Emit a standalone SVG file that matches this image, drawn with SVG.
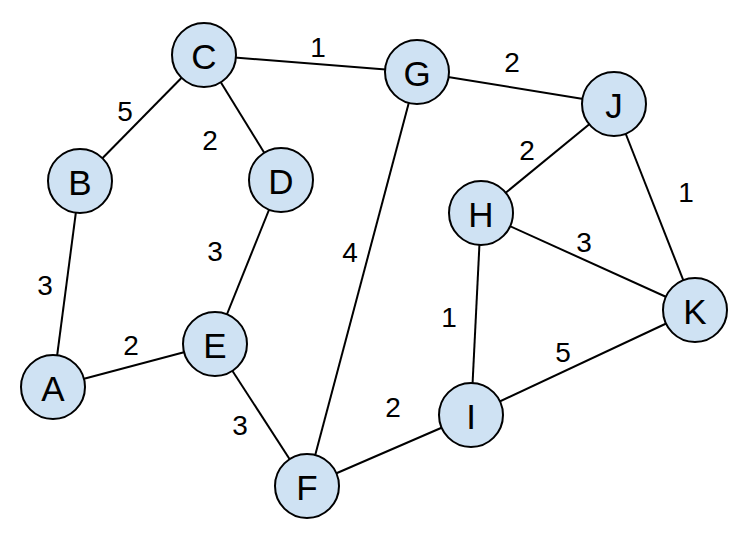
<svg xmlns="http://www.w3.org/2000/svg" width="741" height="545" viewBox="0 0 741 545">
<style>
.n circle{fill:#cfe2f3;stroke:#000;stroke-width:2}
.n text{font-family:"Liberation Sans",Arial,sans-serif;font-size:35px;text-anchor:middle;dominant-baseline:central;fill:#000}
#edges line{stroke:#000;stroke-width:2}
#labels text{font-family:"Liberation Sans",Arial,sans-serif;font-size:28px;text-anchor:middle;dominant-baseline:central;fill:#000}
</style>
<rect width="741" height="545" fill="#fff"/>
<g id="edges">
<line x1="204" y1="55" x2="417" y2="72"/>
<line x1="417" y1="72" x2="614" y2="104"/>
<line x1="204" y1="55" x2="80" y2="181"/>
<line x1="204" y1="55" x2="281" y2="180"/>
<line x1="614" y1="104" x2="481" y2="213"/>
<line x1="614" y1="104" x2="695" y2="310"/>
<line x1="80" y1="181" x2="53" y2="387"/>
<line x1="281" y1="180" x2="215" y2="344"/>
<line x1="417" y1="72" x2="307" y2="486"/>
<line x1="481" y1="213" x2="695" y2="310"/>
<line x1="481" y1="213" x2="471" y2="415"/>
<line x1="471" y1="415" x2="695" y2="310"/>
<line x1="53" y1="387" x2="215" y2="344"/>
<line x1="215" y1="344" x2="307" y2="486"/>
<line x1="307" y1="486" x2="471" y2="415"/>
</g>
<g id="labels">
<text x="318" y="47">1</text>
<text x="512" y="62">2</text>
<text x="125" y="111">5</text>
<text x="210" y="140">2</text>
<text x="527" y="150">2</text>
<text x="686" y="192">1</text>
<text x="45" y="285">3</text>
<text x="215" y="251">3</text>
<text x="350" y="252">4</text>
<text x="584" y="242">3</text>
<text x="449" y="317">1</text>
<text x="563" y="352">5</text>
<text x="131" y="345">2</text>
<text x="240" y="425">3</text>
<text x="393" y="407">2</text>
</g>
<g id="C" class="n"><circle cx="204" cy="55" r="32"/><text x="204" y="56">C</text></g>
<g id="G" class="n"><circle cx="417" cy="72" r="32"/><text x="417" y="73">G</text></g>
<g id="J" class="n"><circle cx="614" cy="104" r="32"/><text x="614" y="105">J</text></g>
<g id="B" class="n"><circle cx="80" cy="181" r="32"/><text x="80" y="182">B</text></g>
<g id="D" class="n"><circle cx="281" cy="180" r="32"/><text x="281" y="181">D</text></g>
<g id="H" class="n"><circle cx="481" cy="213" r="32"/><text x="481" y="214">H</text></g>
<g id="K" class="n"><circle cx="695" cy="310" r="32"/><text x="695" y="311">K</text></g>
<g id="A" class="n"><circle cx="53" cy="387" r="32"/><text x="53" y="388">A</text></g>
<g id="E" class="n"><circle cx="215" cy="344" r="32"/><text x="215" y="345">E</text></g>
<g id="I" class="n"><circle cx="471" cy="415" r="32"/><text x="471" y="416">I</text></g>
<g id="F" class="n"><circle cx="307" cy="486" r="32"/><text x="307" y="487">F</text></g>
</svg>
